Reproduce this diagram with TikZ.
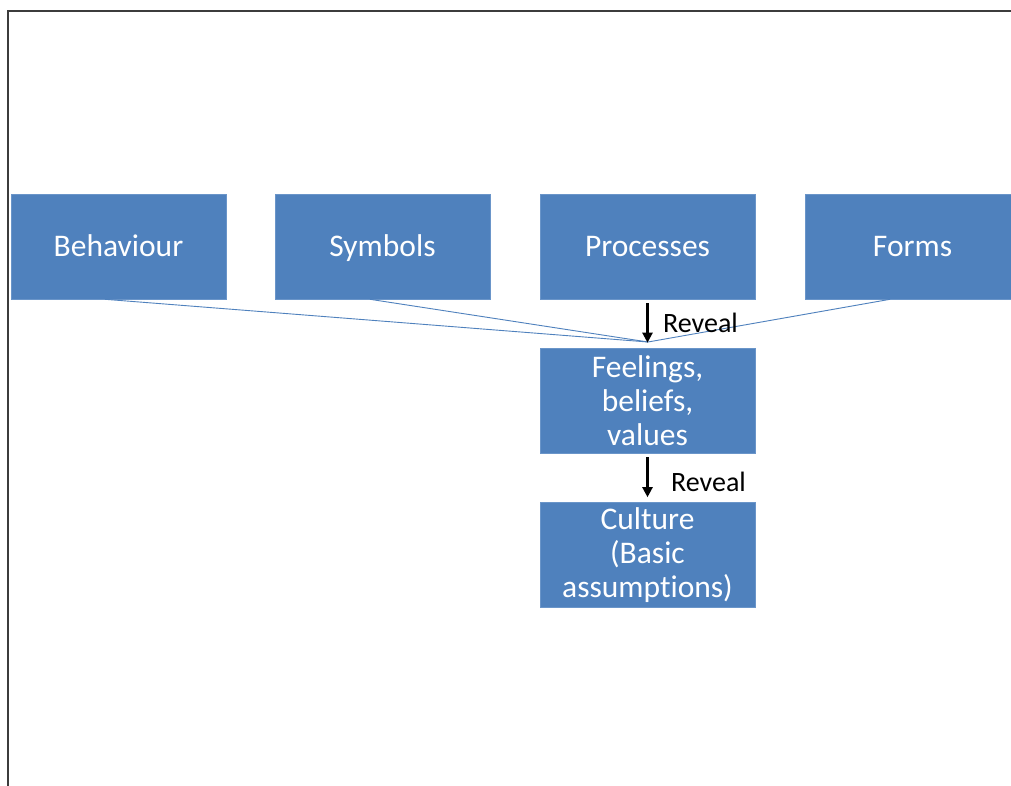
\documentclass[tikz,border=0pt]{standalone}
\usepackage{fontspec}
\setmainfont{Carlito}[Ligatures={NoCommon}]
\usetikzlibrary{arrows.meta,calc}
\definecolor{boxblue}{HTML}{4F81BD}
\definecolor{boxedge}{HTML}{6A95C9}
\definecolor{framegray}{HTML}{3C3C3C}
\tikzset{
  block/.style={rectangle, fill=boxblue, draw=boxedge, line width=0.6pt,
    minimum width=215pt, minimum height=105pt, text=white, align=center,
    font=\fontsize{31.5}{34}\selectfont, inner sep=0pt},
  topblock/.style={block, text height=23pt, text depth=4pt},
  link/.style={draw=boxblue, line width=0.9pt},
  reveal/.style={draw=black, line width=2.2pt, -{Triangle[length=10pt,width=10pt]}},
  tag/.style={font=\fontsize{28}{32}\selectfont, anchor=west, inner sep=0pt}
}
\begin{document}
\begin{tikzpicture}[x=1pt,y=-1pt]
  \useasboundingbox (0,0) rectangle (1011,785);
  \fill[white] (0,0) rectangle (1011,785);
  % page frame (top and left edges)
  \draw[framegray, line width=2pt] (8,790) -- (8,10.5) -- (1020,10.5);

  \node[topblock] (beh) at (118.5,246.5) {Behaviour};
  \node[topblock] (sym) at (382.5,246.5) {Symbols};
  \node[topblock] (pro) at (647.5,246.5) {Processes};
  \node[topblock] (frm) at (912.5,246.5) {Forms};
  \node[block] (fbv) at (647.5,400.5) {Feelings,\\beliefs,\\values};
  \node[block] (cul) at (647.5,555) {Culture\\(Basic\\assumptions)};

  \coordinate (meet) at (648,342);
  \draw[link] ([xshift=-13.5pt]beh.south) -- (meet);
  \draw[link] ([xshift=-12.5pt]sym.south) -- (meet);
  \draw[link] ([xshift=-22.5pt]frm.south) -- (meet);

  \draw[reveal] ([yshift=-4pt]pro.south) -- ([yshift=5pt]fbv.north);
  \draw[reveal] ([yshift=-4pt]fbv.south) -- ([yshift=5pt]cul.north);

  \node[tag] (r1) at (663,323) {Reveal};
  \node[tag] (r2) at (671,482) {Reveal};
\end{tikzpicture}
\end{document}
